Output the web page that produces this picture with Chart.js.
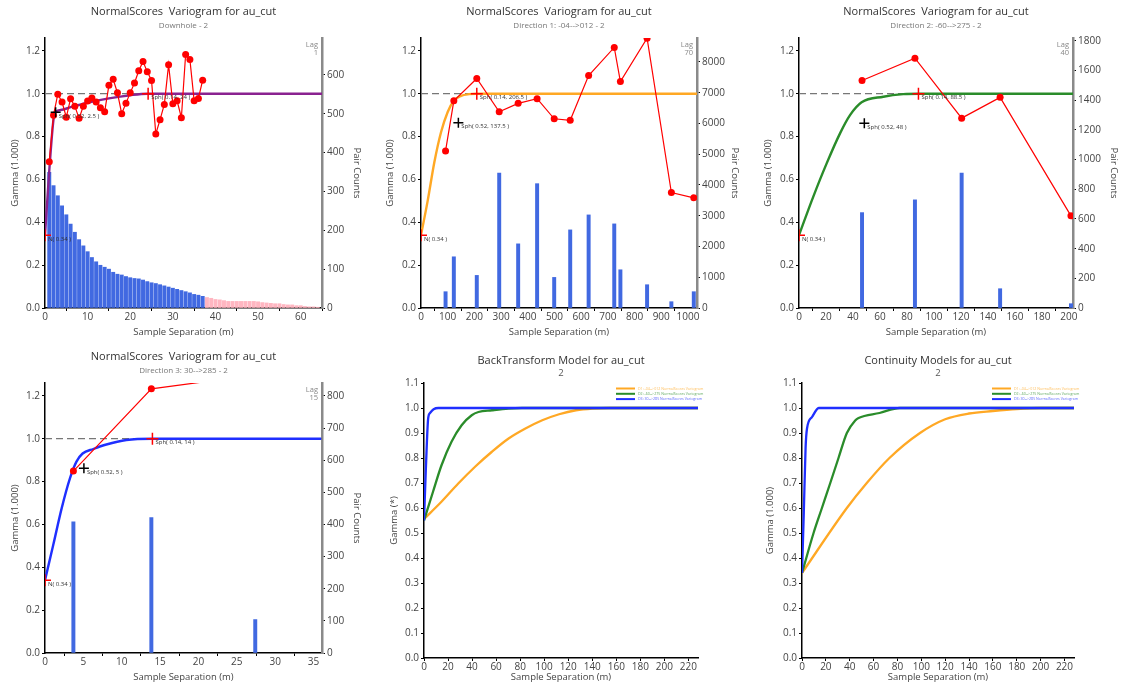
<!DOCTYPE html>
<html>
<head>
<meta charset="utf-8">
<title>au_cut variograms</title>
<script src="https://cdn.jsdelivr.net/npm/chart.js@4.4.1/dist/chart.umd.min.js"></script>
<style>
  body { margin: 0; background: #fff; }
  #page { position: relative; width: 1122px; height: 689px; overflow: hidden; }
  canvas { position: absolute; }
</style>
</head>
<body>
<div id="page">
  <canvas id="downhole" width="375" height="345" style="left:0;top:0"></canvas>
  <canvas id="dir1" width="375" height="345" style="left:375px;top:0"></canvas>
  <canvas id="dir2" width="372" height="345" style="left:750px;top:0"></canvas>
  <canvas id="dir3" width="375" height="344" style="left:0;top:345px"></canvas>
  <canvas id="backTransform" width="375" height="344" style="left:375px;top:345px"></canvas>
  <canvas id="continuity" width="372" height="344" style="left:750px;top:345px"></canvas>
</div>
<script>
// ---- Downhole - 2 ----
const dhLags = [1,2,3,4,5,6,7,8,9,10,11,12,13,14,15,16,17,18,19,20,21,22,23,24,25,26,27,28,29,30,31,32,33,34,35,36,37];
const dhGamma = [0.683,0.90,0.998,0.961,0.89,0.977,0.942,0.885,0.942,0.966,0.98,0.961,0.934,0.916,1.04,1.067,1.004,0.907,0.956,1.004,1.05,1.107,1.15,1.102,1.062,0.812,0.879,0.95,1.135,0.953,0.967,0.888,1.183,1.16,0.967,0.978,1.063];
const dhPairLags = [1,2,3,4,5,6,7,8,9,10,11,12,13,14,15,16,17,18,19,20,21,22,23,24,25,26,27,28,29,30,31,32,33,34,35,36,37,38,39,40,41,42,43,44,45,46,47,48,49,50,51,52,53,54,55,56,57,58,59,60,61,62,63,64];
const dhPairs = [349,315,289,263,240,216,195,176,160,145,130,119,110,105,100,92,87,85,81,78,76,75,72,68,65,63,60,57,54,51,48,45,42,39,35,33,30,27,25,22,21,19,17,17,17,17,17,17,17,16,14,13,12,11,11,9,8,8,6,6,4,3,3,2];
const dhModelX = [0,1,2,2.5,4,6,10,15,20,24,65];
const dhModelY = [0.34,0.64,0.88,0.915,0.925,0.937,0.958,0.978,0.993,1.0,1.0];
const dhMarkX = [0,2.5,24.2];
const dhMarkY = [0.34,0.913,1.0];
const dhMarkText = ['N( 0.34 )','Sph( 0.52, 2.5 )','Sph( 0.14, 24 )'];

// ---- Direction 1: -04-->012 - 2 ----
const d1Lags = [92,123,209,293,364,435,499,559,628,724,747,847,938,1022];
const d1Gamma = [0.733,0.967,1.071,0.916,0.955,0.977,0.883,0.876,1.085,1.216,1.057,1.259,0.539,0.514];
const d1Pairs = [530,1665,1060,4390,2086,4043,995,2540,3027,2735,1243,757,205,530];
const d1ModelX = [0,25,50,75,100,123,150,180,206,1034];
const d1ModelY = [0.34,0.5,0.68,0.82,0.915,0.967,0.99,0.998,1.0,1.0];
const d1MarkX = [0,140,209];
const d1MarkY = [0.34,0.865,1.0];
const d1MarkText = ['N( 0.34 )','Sph( 0.52, 137.5 )','Sph( 0.14, 206.5 )'];

// ---- Direction 2: -60-->275 - 2 ----
const d2Lags = [46.7,85.9,120.5,149,201.5];
const d2Gamma = [1.062,1.166,0.886,0.983,0.43];
const d2Pairs = [643,729,910,130,29];
const d2ModelX = [0,10.6,20.5,30.4,37.8,46.4,62.5,77.3,88.5,203];
const d2ModelY = [0.34,0.52,0.675,0.815,0.9,0.96,0.986,0.998,1.0,1.0];
const d2MarkX = [0,48.4,88.5];
const d2MarkY = [0.34,0.862,1.0];
const d2MarkText = ['N( 0.34 )','Sph( 0.52, 48 )','Sph( 0.14, 88.5 )'];

// ---- Direction 3: 30-->285 - 2 ----
const d3Lags = [3.7,13.86,27.4];
const d3Gamma = [0.849,1.233,1.297];
const d3Pairs = [408,421,104];
const d3ModelX = [0,1.08,2.17,3.25,4.1,4.9,6.3,8.0,10.6,14,36];
const d3ModelY = [0.34,0.505,0.675,0.815,0.893,0.931,0.952,0.973,0.994,1.0,1.0];
const d3MarkX = [0,5.07,14];
const d3MarkY = [0.34,0.862,1.0];
const d3MarkText = ['N( 0.34 )','Sph( 0.52, 5 )','Sph( 0.14, 14 )'];

// ---- BackTransform models ----
const btD1X = [0,14.5,28.5,42.5,56.5,70.4,84.4,98.4,112.4,126.4,140.3,154,228];
const btD1Y = [0.556,0.625,0.698,0.765,0.825,0.878,0.918,0.951,0.975,0.991,0.998,1.0,1.0];
const btD2X = [0,7.5,14.5,22.9,31.3,39.7,45.3,56.5,70.4,81.6,228];
const btD2Y = [0.55,0.665,0.77,0.865,0.931,0.971,0.984,0.991,0.998,1.0,1.0];
const btD3X = [0,1.5,3.5,5,8,12,228];
const btD3Y = [0.55,0.75,0.96,0.98,0.995,1.0,1.0];

// ---- Continuity models ----
const cmD1X = [0,37.6,54.3,73.3,98.9,120,140,160,180,200,228];
const cmD1Y = [0.34,0.6,0.7,0.8,0.9,0.955,0.978,0.988,0.996,1.0,1.0];
const cmD2X = [0,9.7,16.7,23.7,30.6,37.6,44.6,47.4,65,82,228];
const cmD2Y = [0.34,0.5,0.6,0.7,0.8,0.9,0.95,0.96,0.98,1.0,1.0];
const cmD3X = [0,1.5,3,4.2,8.4,12.5,14,228];
const cmD3Y = [0.34,0.58,0.84,0.918,0.964,0.995,1.0,1.0];

const modelNames = ['D1: -04-->012 NormalScores Variogram','D2: -60-->275 NormalScores Variogram','D3: 30-->285 NormalScores Variogram'];

const FONT = "'Open Sans', sans-serif";
const RED = '#ff0000';
const BAR_BLUE = '#4169e1';
const BAR_PINK = '#ffb6c1';
const ORANGE = '#ffa824';
const GREEN = '#2a8c2a';
const BLUE = '#1f2fff';
const PURPLE = '#8a2290';

Chart.defaults.font.family = FONT;
Chart.defaults.color = '#444';

function pts(xs, ys) {
    return xs.map((x, i) => ({ x: x, y: ys[i] }));
}

// fixed tick positions every `step`, up to the axis max
function stepTicks(step) {
    return s => {
        const out = [];
        for (let k = 0; k * step <= s.max + 1e-9; k++) {
            out.push({ value: Math.round(k * step * 1000) / 1000 });
        }
        s.ticks = out;
    };
}

function xAxis(max, step, height, titlePad) {
    return {
        type: 'linear', min: 0, max: max, offset: false,
        ticks: { autoSkip: false, maxRotation: 0, padding: 0, font: { size: 10 }, color: '#444', callback: v => String(v) },
        grid: { drawOnChartArea: false, tickLength: 3, color: '#000' },
        border: { color: '#000', width: 1.5 },
        title: { display: true, text: 'Sample Separation (m)', font: { size: 9.5 }, color: '#444', padding: { top: 0, bottom: titlePad } },
        afterBuildTicks: stepTicks(step),
        afterFit: s => { s.height = height; }
    };
}

function gammaAxis(max, step, text, width, titlePad) {
    return {
        type: 'linear', position: 'left', min: 0, max: max,
        ticks: { padding: 2, font: { size: 10 }, color: '#444', callback: v => v.toFixed(1) },
        grid: { drawOnChartArea: false, tickLength: 3, color: '#000' },
        border: { color: '#000', width: 1.5 },
        title: { display: true, text: text, font: { size: 9.5 }, color: '#444', padding: { top: titlePad, bottom: 0 } },
        afterBuildTicks: stepTicks(step),
        afterFit: s => { s.width = width; }
    };
}

function pairAxis(max, step, width, titlePad) {
    return {
        type: 'linear', position: 'right', min: 0, max: max,
        ticks: { padding: 2, font: { size: 10 }, color: '#444', callback: v => String(v) },
        grid: { drawOnChartArea: false, tickLength: 3, color: '#000' },
        border: { color: '#8a8a8a', width: 2.5 },
        title: { display: true, text: 'Pair Counts', font: { size: 9.5 }, color: '#444', padding: { top: titlePad, bottom: 0 } },
        afterBuildTicks: stepTicks(step),
        afterFit: s => { s.width = width; }
    };
}

function notesPlugin(markX, markY, markText, lagText) {
    return {
        id: 'variogramNotes',
        afterDatasetsDraw(chart) {
            const { ctx, chartArea, scales } = chart;
            ctx.save();
            ctx.font = '6px ' + FONT;
            ctx.fillStyle = '#333';
            ctx.textAlign = 'left';
            ctx.textBaseline = 'middle';
            markText.forEach((t, i) => {
                ctx.fillText(t, scales.x.getPixelForValue(markX[i]) + 3, scales.y.getPixelForValue(markY[i]) + 4);
            });
            ctx.font = '7.5px ' + FONT;
            ctx.fillStyle = '#888';
            ctx.textAlign = 'right';
            ctx.fillText('Lag', chartArea.right - 4, chartArea.top + 7);
            ctx.fillText(lagText, chartArea.right - 4, chartArea.top + 15);
            ctx.restore();
        }
    };
}

function variogramChart(id, v) {
    new Chart(document.getElementById(id), {
        type: 'scatter',
        data: {
            datasets: [
                {
                    type: 'bar', data: pts(v.pairLags, v.pairs), yAxisID: 'y2',
                    backgroundColor: ctx => ctx.dataIndex < v.lags.length ? BAR_BLUE : BAR_PINK,
                    barThickness: 3.3, borderWidth: 0, order: 5
                },
                {
                    type: 'line', data: pts([0, v.xMax], [1, 1]), borderColor: '#777', borderWidth: 1.3,
                    borderDash: [7, 4], pointRadius: 0, order: 4
                },
                {
                    type: 'line', data: pts(v.modelX, v.modelY), borderColor: v.modelColor, borderWidth: 2.4,
                    pointRadius: 0, cubicInterpolationMode: 'monotone', order: 3
                },
                {
                    type: 'line', data: pts(v.lags, v.gamma), borderColor: RED, backgroundColor: RED,
                    borderWidth: 1.2, pointRadius: 3.5, pointBorderWidth: 0, order: 2, clip: v.clip
                },
                {
                    type: 'scatter', data: pts(v.markX, v.markY), pointStyle: 'cross',
                    pointRadius: [6, 5, 6], pointBorderColor: [RED, '#000', RED], pointBorderWidth: 1.5, order: 1
                }
            ]
        },
        options: {
            responsive: false, animation: false, events: [],
            layout: { padding: 0 },
            plugins: {
                legend: { display: false }, tooltip: { enabled: false },
                title: { display: true, text: 'NormalScores  Variogram for au_cut', fullSize: false, color: '#333',
                    font: { size: 11, weight: 'normal' }, padding: { top: 5, bottom: 3 } },
                subtitle: { display: true, text: v.subtitle, fullSize: false, color: '#777',
                    font: { size: 8 }, padding: { top: 0, bottom: 7.2 } }
            },
            scales: {
                x: xAxis(v.xMax, v.xStep, v.box.bottom, v.box.xPad),
                y: gammaAxis(1.26, 0.2, 'Gamma (1.000)', v.box.left, v.box.yPad),
                y2: pairAxis(v.pMax, v.pStep, v.box.right, v.box.pPad)
            }
        },
        plugins: [notesPlugin(v.markX, v.markY, v.markText, v.lag)]
    });
}

function legendPlugin(colors) {
    return {
        id: 'modelLegend',
        afterDraw(chart) {
            const { ctx, chartArea } = chart;
            ctx.save();
            ctx.font = '3.6px ' + FONT;
            ctx.textBaseline = 'middle';
            modelNames.forEach((name, i) => {
                const y = chartArea.top + 5.5 + i * 5.3;
                ctx.strokeStyle = colors[i];
                ctx.lineWidth = 2;
                ctx.beginPath();
                ctx.moveTo(chartArea.right - 82, y);
                ctx.lineTo(chartArea.right - 63, y);
                ctx.stroke();
                ctx.globalAlpha = 0.75;
                ctx.fillStyle = colors[i];
                ctx.fillText(name, chartArea.right - 60, y);
                ctx.globalAlpha = 1;
            });
            ctx.restore();
        }
    };
}

function modelChart(id, m) {
    const colors = [ORANGE, GREEN, BLUE];
    const series = [[m.x1, m.y1], [m.x2, m.y2], [m.x3, m.y3]];
    new Chart(document.getElementById(id), {
        type: 'scatter',
        data: {
            datasets: series.map((s, i) => ({
                type: 'line', label: modelNames[i], data: pts(s[0], s[1]), borderColor: colors[i],
                borderWidth: 2.3, pointRadius: 0, cubicInterpolationMode: 'monotone', order: 3 - i
            }))
        },
        options: {
            responsive: false, animation: false, events: [],
            layout: { padding: { right: m.box.right } },
            plugins: {
                legend: { display: false }, tooltip: { enabled: false },
                title: { display: true, text: m.title, fullSize: false, color: '#333',
                    font: { size: 11, weight: 'normal' }, padding: { top: 9.4, bottom: 0 } },
                subtitle: { display: true, text: '2', fullSize: false, color: '#555',
                    font: { size: 9.5 }, padding: { top: 0, bottom: 4 } }
            },
            scales: {
                x: xAxis(228, 20, m.box.bottom, m.box.xPad),
                y: gammaAxis(1.1, 0.1, m.yTitle, m.box.left, m.box.yPad)
            }
        },
        plugins: [legendPlugin(colors)]
    });
}

variogramChart('downhole', {
    subtitle: 'Downhole - 2', lag: '1',
    lags: dhLags, gamma: dhGamma, pairLags: dhPairLags, pairs: dhPairs,
    modelX: dhModelX, modelY: dhModelY, modelColor: PURPLE,
    markX: dhMarkX, markY: dhMarkY, markText: dhMarkText,
    xMax: 65, xStep: 10, pMax: 695, pStep: 100,
    box: { left: 45, right: 53, bottom: 37, xPad: 6.6, yPad: 9.3, pPad: 12.3 }
});

variogramChart('dir1', {
    subtitle: 'Direction 1: -04-->012 - 2', lag: '70',
    lags: d1Lags, gamma: d1Gamma, pairLags: d1Lags, pairs: d1Pairs,
    modelX: d1ModelX, modelY: d1ModelY, modelColor: ORANGE,
    markX: d1MarkX, markY: d1MarkY, markText: d1MarkText,
    xMax: 1034, xStep: 100, pMax: 8780, pStep: 1000,
    box: { left: 46, right: 53, bottom: 37, xPad: 6.6, yPad: 9.3, pPad: 9.3 }
});

variogramChart('dir2', {
    subtitle: 'Direction 2: -60-->275 - 2', lag: '40',
    lags: d2Lags, gamma: d2Gamma, pairLags: d2Lags, pairs: d2Pairs,
    modelX: d2ModelX, modelY: d2ModelY, modelColor: GREEN,
    markX: d2MarkX, markY: d2MarkY, markText: d2MarkText,
    xMax: 203, xStep: 20, pMax: 1820, pStep: 200,
    box: { left: 49, right: 49, bottom: 37, xPad: 6.6, yPad: 12.6, pPad: 3 }
});

variogramChart('dir3', {
    subtitle: 'Direction 3: 30-->285 - 2', lag: '15',
    lags: d3Lags, gamma: d3Gamma, pairLags: d3Lags, pairs: d3Pairs,
    modelX: d3ModelX, modelY: d3ModelY, modelColor: BLUE,
    markX: d3MarkX, markY: d3MarkY, markText: d3MarkText,
    xMax: 36.1, xStep: 5, pMax: 840, pStep: 100, clip: 0,
    box: { left: 45, right: 53, bottom: 36, xPad: 5.6, yPad: 9.3, pPad: 12.3 }
});

modelChart('backTransform', {
    title: 'BackTransform Model for au_cut', yTitle: 'Gamma (*)',
    x1: btD1X, y1: btD1Y, x2: btD2X, y2: btD2Y, x3: btD3X, y3: btD3Y,
    box: { left: 49, right: 52, bottom: 31, xPad: 5.6, yPad: 13.3 }
});

modelChart('continuity', {
    title: 'Continuity Models for au_cut', yTitle: 'Gamma (1.000)',
    x1: cmD1X, y1: cmD1Y, x2: cmD2X, y2: cmD2Y, x3: cmD3X, y3: cmD3Y,
    box: { left: 52, right: 48, bottom: 31, xPad: 5.6, yPad: 14.3 }
});
</script>
</body>
</html>
